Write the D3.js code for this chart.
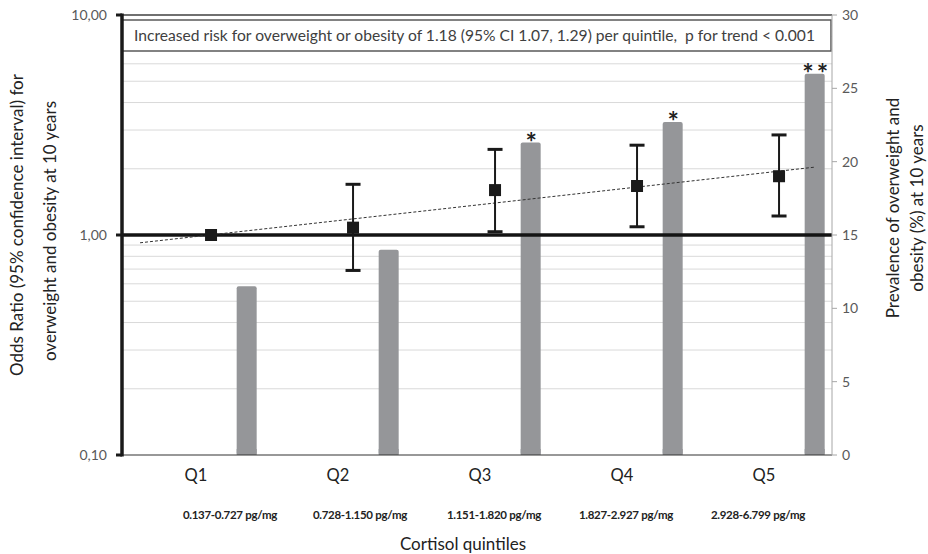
<!DOCTYPE html>
<html>
<head>
<meta charset="utf-8">
<script src="https://cdn.jsdelivr.net/npm/d3@7"></script>
<style>
  html, body { margin: 0; padding: 0; background: #fff; }
  svg { display: block; font-family: Lato, "Open Sans", sans-serif; }
</style>
</head>
<body>
<svg id="chart" width="928" height="554"></svg>
<script>
// ---------- DATA ----------
const categories   = ["Q1", "Q2", "Q3", "Q4", "Q5"];
const rangeLabels  = ["0.137-0.727 pg/mg", "0.728-1.150 pg/mg", "1.151-1.820 pg/mg", "1.827-2.927 pg/mg", "2.928-6.799 pg/mg"];
const oddsRatio    = [1.00, 1.08, 1.60, 1.67, 1.85];
const ciLower      = [null, 0.69, 1.035, 1.09, 1.22];
const ciUpper      = [null, 1.70, 2.45, 2.56, 2.85];
const prevalence   = [11.5, 14.0, 21.3, 22.7, 26.0];
const significance = ["", "", "*", "*", "**"];
const leftTicks    = [0.1, 1, 10];
const leftTickLabels = ["0,10", "1,00", "10,00"];
const leftGrid     = [0.2,0.3,0.4,0.5,0.6,0.7,0.8,0.9,2,3,4,5,6,7,8,9];
const rightTicks   = [0, 5, 10, 15, 20, 25, 30];
const annotation   = "Increased risk for overweight or obesity of 1.18 (95% CI 1.07, 1.29) per quintile,  p for trend < 0.001";
const leftTitle    = ["Odds Ratio (95% confidence interval) for", "overweight and obesity at 10 years"];
const rightTitle   = ["Prevalence of overweight and", "obesity (%) at 10 years"];
const xTitle       = "Cortisol quintiles";

// ---------- LAYOUT ----------
const L = 122, R = 832, T = 15, B = 455;
const svg = d3.select("#chart");

const x = d3.scaleBand().domain(categories).range([L, R]);
const bw = x.bandwidth();
const markerPos = 0.627;   // fraction of band for OR markers
const barPos = 0.878;      // fraction of band for bar centres
const barW = 20;
const rangeNudge = [37, 25, 17, 7, -3];

const yL = d3.scaleLog().domain([0.1, 10]).range([B, T]);
const yR = d3.scaleLinear().domain([0, 30]).range([B, T]);

// gridlines
svg.append("g").selectAll("line").data(leftGrid).join("line")
  .attr("x1", L).attr("x2", R)
  .attr("y1", d => yL(d)).attr("y2", d => yL(d))
  .attr("stroke", "#d9d9d9").attr("stroke-width", 1);

// top line
svg.append("line").attr("x1", L).attr("x2", R).attr("y1", yL(10)).attr("y2", yL(10))
  .attr("stroke", "#404040").attr("stroke-width", 1.5);

// bars
svg.append("g").selectAll("rect").data(categories).join("rect")
  .attr("x", (c) => x(c) + bw * barPos - barW / 2)
  .attr("width", barW)
  .attr("y", (c, i) => yR(prevalence[i]))
  .attr("height", (c, i) => B - yR(prevalence[i]))
  .attr("rx", 2).attr("ry", 2)
  .attr("fill", "#959699");
// square off bar bottoms
svg.append("g").selectAll("rect").data(categories).join("rect")
  .attr("x", (c) => x(c) + bw * barPos - barW / 2)
  .attr("width", barW)
  .attr("y", B - 6).attr("height", 6)
  .attr("fill", "#959699");

// significance stars
svg.append("g").selectAll("text").data(categories).join("text")
  .attr("x", (c) => x(c) + bw * barPos + 2)
  .attr("y", (c, i) => yR(prevalence[i]) + 9)
  .attr("text-anchor", "middle")
  .attr("font-size", 27).attr("font-weight", "bold").attr("fill", "#222")
  .attr("letter-spacing", 3)
  .text((c, i) => significance[i]);

// bottom axis line
svg.append("line").attr("x1", L).attr("x2", R).attr("y1", B).attr("y2", B)
  .attr("stroke", "#333").attr("stroke-width", 1.2);

// reference line at OR = 1
svg.append("line").attr("x1", L).attr("x2", R).attr("y1", yL(1)).attr("y2", yL(1))
  .attr("stroke", "#141414").attr("stroke-width", 3.5);

// trendline (exponential regression over OR values)
const lx = oddsRatio.map((d, i) => i + 1);
const ly = oddsRatio.map(d => Math.log(d));
const mx = d3.mean(lx), my = d3.mean(ly);
const slope = d3.sum(lx.map((v, i) => (v - mx) * (ly[i] - my))) / d3.sum(lx.map(v => (v - mx) ** 2));
const icpt = my - slope * mx;
const posOf = t => L + bw * markerPos + (t - 1) * bw;
const trendT = [0.5, 5.25];
svg.append("line")
  .attr("x1", posOf(trendT[0])).attr("y1", yL(Math.exp(icpt + slope * trendT[0])))
  .attr("x2", posOf(trendT[1])).attr("y2", yL(Math.exp(icpt + slope * trendT[1])))
  .attr("stroke", "#333").attr("stroke-width", 1).attr("stroke-dasharray", "3,2");

// error bars
const eb = svg.append("g");
categories.forEach((c, i) => {
  if (ciLower[i] == null) return;
  const cx = x(c) + bw * markerPos;
  eb.append("line").attr("x1", cx).attr("x2", cx)
    .attr("y1", yL(ciLower[i])).attr("y2", yL(ciUpper[i]))
    .attr("stroke", "#1a1a1a").attr("stroke-width", 2);
  [ciLower[i], ciUpper[i]].forEach(v => {
    eb.append("line").attr("x1", cx - 7.5).attr("x2", cx + 7.5)
      .attr("y1", yL(v)).attr("y2", yL(v))
      .attr("stroke", "#1a1a1a").attr("stroke-width", 3);
  });
});
// markers
svg.append("g").selectAll("rect").data(categories).join("rect")
  .attr("x", c => x(c) + bw * markerPos - 6)
  .attr("y", (c, i) => yL(oddsRatio[i]) - 6)
  .attr("width", 12).attr("height", 12)
  .attr("fill", "#1a1a1a");

// annotation box
svg.append("rect").attr("x", L).attr("y", 20).attr("width", 709).attr("height", 31)
  .attr("fill", "#fff").attr("stroke", "#595959").attr("stroke-width", 1.5);
svg.append("text").attr("x", 134).attr("y", 41)
  .attr("font-size", 14.5).attr("fill", "#404040")
  .attr("textLength", 681).attr("lengthAdjust", "spacingAndGlyphs")
  .attr("xml:space", "preserve")
  .text(annotation);

// left axis
svg.append("line").attr("x1", L).attr("x2", L).attr("y1", T - 1.5).attr("y2", B + 1.5)
  .attr("stroke", "#1a1a1a").attr("stroke-width", 3.5);
const lt = svg.append("g");
lt.selectAll("line").data(leftTicks).join("line")
  .attr("x1", L - 6).attr("x2", L).attr("y1", d => yL(d)).attr("y2", d => yL(d))
  .attr("stroke", "#1a1a1a").attr("stroke-width", 3);
lt.selectAll("text").data(leftTicks).join("text")
  .attr("x", 107).attr("y", d => yL(d)).attr("dy", "0.35em")
  .attr("text-anchor", "end").attr("font-size", 14).attr("fill", "#595959")
  .text((d, i) => leftTickLabels[i]);

// right axis
svg.append("line").attr("x1", R).attr("x2", R).attr("y1", T).attr("y2", B)
  .attr("stroke", "#a6a6a6").attr("stroke-width", 1);
const rt = svg.append("g");
rt.selectAll("line").data(rightTicks).join("line")
  .attr("x1", R).attr("x2", R + 5).attr("y1", d => yR(d)).attr("y2", d => yR(d))
  .attr("stroke", "#a6a6a6").attr("stroke-width", 1);
rt.selectAll("text").data(rightTicks).join("text")
  .attr("x", 842).attr("y", d => yR(d)).attr("dy", "0.35em")
  .attr("font-size", 14).attr("fill", "#595959")
  .text(d => d);

// x labels
svg.append("g").selectAll("text").data(categories).join("text")
  .attr("x", c => x(c) + bw / 2 + 3).attr("y", 481)
  .attr("text-anchor", "middle").attr("font-size", 16.5).attr("fill", "#222")
  .text(c => c);
svg.append("g").selectAll("text").data(categories).join("text")
  .attr("x", (c, i) => x(c) + bw / 2 + rangeNudge[i]).attr("y", 519)
  .attr("text-anchor", "middle").attr("font-size", 11.5).attr("font-weight", "bold").attr("fill", "#222")
  .attr("letter-spacing", -0.3)
  .text((c, i) => rangeLabels[i]);
svg.append("text").attr("x", 463).attr("y", 550)
  .attr("text-anchor", "middle").attr("font-size", 17).attr("fill", "#222")
  .text(xTitle);

// axis titles
leftTitle.forEach((t, i) => {
  svg.append("text").attr("transform", `translate(${[23, 56][i]},${[225, 231][i]}) rotate(-90)`)
    .attr("text-anchor", "middle").attr("font-size", 17).attr("fill", "#222")
    .text(t);
});
rightTitle.forEach((t, i) => {
  svg.append("text").attr("transform", `translate(${[899, 923][i]},208) rotate(-90)`)
    .attr("text-anchor", "middle").attr("font-size", 17).attr("fill", "#222")
    .text(t);
});
</script>
</body>
</html>
